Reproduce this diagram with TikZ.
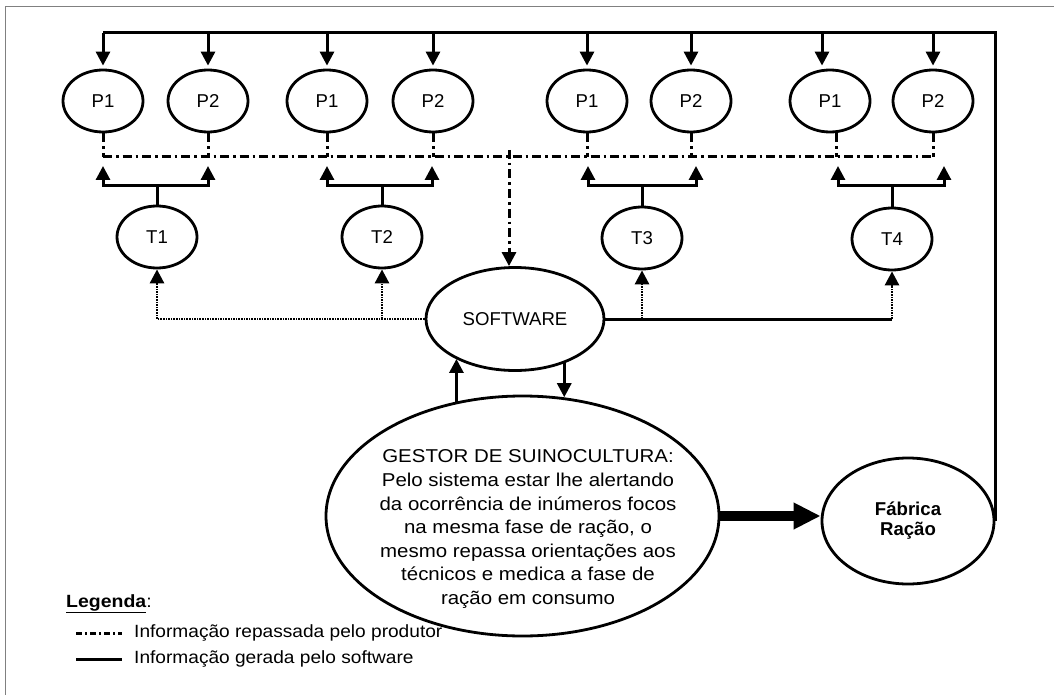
\documentclass[tikz,border=0pt]{standalone}
\usepackage{fontspec}
\usepackage{graphicx}
\setmainfont{Liberation Sans}
\usetikzlibrary{arrows.meta,shapes.geometric}
\begin{document}
\begin{tikzpicture}[x=1pt,y=-1pt,
  ell/.style={draw, ellipse, line width=2.8pt, minimum width=80pt, minimum height=62pt, inner sep=0pt, font=\fontsize{18.6}{22}\selectfont},
  conn/.style={line width=3pt},
  tip/.style={-{Triangle[width=14pt,length=14pt]}},
  arr/.style={conn, tip},
  dd/.style={line width=3pt, dash pattern=on 9pt off 4pt on 2.5pt off 4pt},
  dotl/.style={line width=2.8pt, dash pattern=on 1.6pt off 1pt},
  legdd/.style={line width=3pt, dash pattern=on 6pt off 3pt on 2pt off 3pt},
  frame/.style={draw=black!50, line width=1pt},
  legtext/.style={anchor=west, inner sep=0pt, font=\fontsize{17.7}{20}\selectfont},
]
\useasboundingbox (0,0) rectangle (1054,695);
% outer frame (top and left visible)
\coordinate (fr1) at (1054,6.5);
\coordinate (fr2) at (5,6.5);
\coordinate (fr3) at (5,695);
\draw[frame] (fr1) -- (fr2) -- (fr3);

% producer nodes
\node[ell] (p11) at (103,101) {P1};
\node[ell] (p12) at (208,101) {P2};
\node[ell] (p21) at (327,101) {P1};
\node[ell] (p22) at (433,101) {P2};
\node[ell] (p31) at (587,101) {P1};
\node[ell] (p32) at (691,101) {P2};
\node[ell] (p41) at (830,101) {P1};
\node[ell] (p42) at (933,101) {P2};

% technicians
\node[ell] (t1) at (157,237) {T1};
\node[ell] (t2) at (382,237) {T2};
\node[ell] (t3) at (642,238) {T3};
\node[ell] (t4) at (892,239) {T4};

% software
\node[ell, minimum width=178pt, minimum height=103pt] (sw) at (515,319) {SOFTWARE};

% gestor
\node[draw, ellipse, line width=2.8pt, minimum width=393pt, minimum height=240pt, inner sep=0pt] (gestor) at (522.5,516) {};
\node[inner sep=0pt, font=\fontsize{18.6}{23.6}\selectfont] (gestortxt) at (528,529)
  {\scalebox{1.1}[1]{\begin{tabular}{@{}c@{}}GESTOR DE SUINOCULTURA:\\Pelo sistema estar lhe alertando\\da ocorrência de inúmeros focos\\na mesma fase de ração, o\\mesmo repassa orientações aos\\técnicos e medica a fase de\\ração em consumo\end{tabular}}};

% fabrica
\node[draw, ellipse, line width=2.8pt, minimum width=172pt, minimum height=126pt, inner sep=0pt, align=center, font=\bfseries\fontsize{18.6}{20}\selectfont] (fab) at (908,521) {Fábrica\\Ração};

% top distribution line
\coordinate (topL) at (103,33);
\draw[conn] (fab.east) -- (fab.east |- topL) -- (topL);
\foreach \n in {p11,p12,p21,p22,p31,p32,p42}{
  \draw[arr, shorten >=3pt] (\n.north |- topL) -- (\n.north);
}
\draw[arr, shorten >=3pt] ([xshift=-8pt]p41.north |- topL) -- ([xshift=-8pt]p41.north);

% dash-dot producer line
\coordinate (ddL) at (103,157);
\coordinate (ddR) at (933,157);
\draw[dd] (ddL) -- (ddR);
\foreach \n in {p11,p12,p21,p22,p31,p32,p42}{
  \draw[dd] (\n.south) -- (\n.south |- ddL);
}
\draw[dd] ([xshift=6pt]p41.south) -- ([xshift=6pt]p41.south |- ddL);
\coordinate (swtop) at (509,150);
\draw[dd, tip] (swtop) -- (swtop |- sw.north);

% technician brackets
\coordinate (brky) at (0,186);
\coordinate (b1a) at (103,166);
\coordinate (b1b) at (208,166);
\coordinate (b2a) at (327,166);
\coordinate (b2b) at (432,166);
\coordinate (b3a) at (588,166);
\coordinate (b3b) at (696,166);
\coordinate (b4a) at (838,166);
\coordinate (b4b) at (944,166);
\draw[conn] (t1.north) -- (t1.north |- brky);
\draw[arr] (t1.north |- brky) -| (b1a);
\draw[arr] (t1.north |- brky) -| (b1b);
\draw[conn] (t2.north) -- (t2.north |- brky);
\draw[arr] (t2.north |- brky) -| (b2a);
\draw[arr] (t2.north |- brky) -| (b2b);
\draw[conn] (t3.north) -- (t3.north |- brky);
\draw[arr] (t3.north |- brky) -| (b3a);
\draw[arr] (t3.north |- brky) -| (b3b);
\draw[conn] (t4.north) -- (t4.north |- brky);
\draw[arr] (t4.north |- brky) -| (b4a);
\draw[arr] (t4.north |- brky) -| (b4b);

% software to technicians
\draw[dotl, tip] (sw.west) -| (t1.south);
\draw[dotl, tip] (t2.south |- sw.west) -- (t2.south);
\draw[conn] (sw.east) -- (t4.south |- sw.east);
\draw[dotl, tip] (t3.south |- sw.east) -- (t3.south);
\draw[dotl, tip] (t4.south |- sw.east) -- (t4.south);

% software <-> gestor
\draw[arr] (gestor.120) -- (gestor.120 |- sw.214);
\draw[arr] (sw.318) -- (sw.318 |- gestor.71);

% gestor -> fabrica
\draw[line width=10pt, -{Triangle[width=25pt,length=27pt]}] (gestor.east) -- (fab.west |- gestor.east);

% legend
\node[legtext] (leg) at (66,604) {\scalebox{1.1}[1]{\underline{\textbf{Legenda}}:}};
\coordinate (l1a) at (76,633);
\coordinate (l1b) at (122,633);
\draw[legdd] (l1a) -- (l1b);
\node[legtext] (l1t) at (134,633) {\scalebox{1.08}[1]{Informação repassada pelo produtor}};
\coordinate (l2a) at (76,659);
\coordinate (l2b) at (122,659);
\draw[conn] (l2a) -- (l2b);
\node[legtext] (l2t) at (134,659) {\scalebox{1.08}[1]{Informação gerada pelo software}};
\end{tikzpicture}
\end{document}
